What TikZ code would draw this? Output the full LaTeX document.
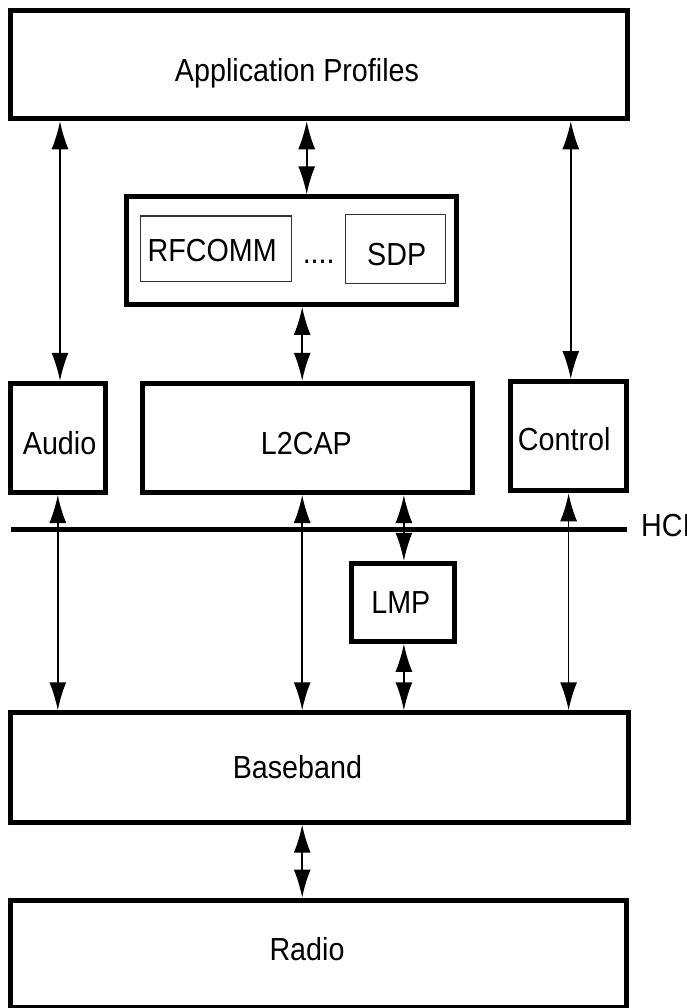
\documentclass[tikz,border=0pt]{standalone}
\usepackage{fontspec}
\setmainfont[FakeStretch=0.9]{Liberation Sans}
\usetikzlibrary{arrows.meta}
\begin{document}
\begin{tikzpicture}[x=1bp,y=-1bp,
  layer/.style={draw, line width=5bp, inner sep=0pt, rectangle},
  sublayer/.style={draw=black!80, line width=1.3bp, inner sep=0pt, rectangle},
  lbl/.style={anchor=base, inner sep=0pt, font=\fontsize{32}{38}\selectfont},
  link/.style={line width=1.6bp, {Latex[length=28bp,width=17bp]}-{Latex[length=28bp,width=17bp]}}]
\useasboundingbox (0,0) rectangle (687,1008);

% protocol stack boxes
\node[layer, minimum width=617bp, minimum height=108.7bp] (app) at (319,64.4) {};
\node[layer, minimum width=330.3bp, minimum height=107.7bp] (stack) at (291.2,250.6) {};
\node[sublayer, minimum width=151bp, minimum height=65.7bp] (rfcomm) at (215.7,248.9) {};
\node[sublayer, minimum width=99.8bp, minimum height=69bp] (sdp) at (395.6,248.8) {};
\node[layer, minimum width=94bp, minimum height=109.2bp] (audio) at (58,437.9) {};
\node[layer, minimum width=330bp, minimum height=109.2bp] (l2cap) at (307.7,437.9) {};
\node[layer, minimum width=115.7bp, minimum height=109.3bp] (control) at (568.6,436.2) {};
\node[layer, minimum width=103bp, minimum height=78bp] (lmp) at (402.6,602.3) {};
\node[layer, minimum width=617.5bp, minimum height=109.4bp] (baseband) at (319.3,767.5) {};
\node[layer, minimum width=616bp, minimum height=107.5bp] (radio) at (318.6,953.8) {};

% labels
\node[lbl] (appT) at (297,81.7) {Application Profiles};
\node[lbl] (rfcommT) at (212.2,261.7) {RFCOMM};
\node[lbl] (dotsT) at (318.7,263) {....};
\node[lbl] (sdpT) at (396.7,265) {SDP};
\node[lbl] (audioT) at (59.6,454.3) {Audio};
\node[lbl] (l2capT) at (306.4,454.3) {L2CAP};
\node[lbl] (controlT) at (564.2,450.7) {Control};
\node[lbl] (lmpT) at (400.8,613.3) {LMP};
\node[lbl] (basebandT) at (297.4,778.3) {Baseband};
\node[lbl] (radioT) at (307,960) {Radio};

% HCI boundary
\coordinate (hciL) at (11,529.2);
\coordinate (hciR) at (627.3,529.2);
\draw[line width=5bp] (hciL) -- (hciR);
\node[lbl, anchor=base west] (hci) at (641,536.7) {HCI};

% connector columns
\coordinate (cA) at (60,0);
\coordinate (cB) at (306.7,0);
\coordinate (cC) at (570.8,0);
\coordinate (cD) at (302.2,0);
\coordinate (cE) at (57.8,0);
\coordinate (cF) at (403.9,0);
\coordinate (cG) at (568.6,0);

\draw[link] (app.south -| cA) -- (audio.north -| cA);
\draw[link] (app.south -| cB) -- (stack.north -| cB);
\draw[link] (app.south -| cC) -- (control.north -| cC);
\draw[link] (stack.south -| cD) -- (l2cap.north -| cD);
\draw[link] (audio.south -| cE) -- (baseband.north -| cE);
\draw[link] (l2cap.south -| cD) -- (baseband.north -| cD);
\draw[link] (l2cap.south -| cF) -- (lmp.north -| cF);
\draw[link] (lmp.south -| cF) -- (baseband.north -| cF);
\draw[link] (control.south -| cG) -- (baseband.north -| cG);
\draw[link] (baseband.south -| cD) -- (radio.north -| cD);
\end{tikzpicture}
\end{document}
